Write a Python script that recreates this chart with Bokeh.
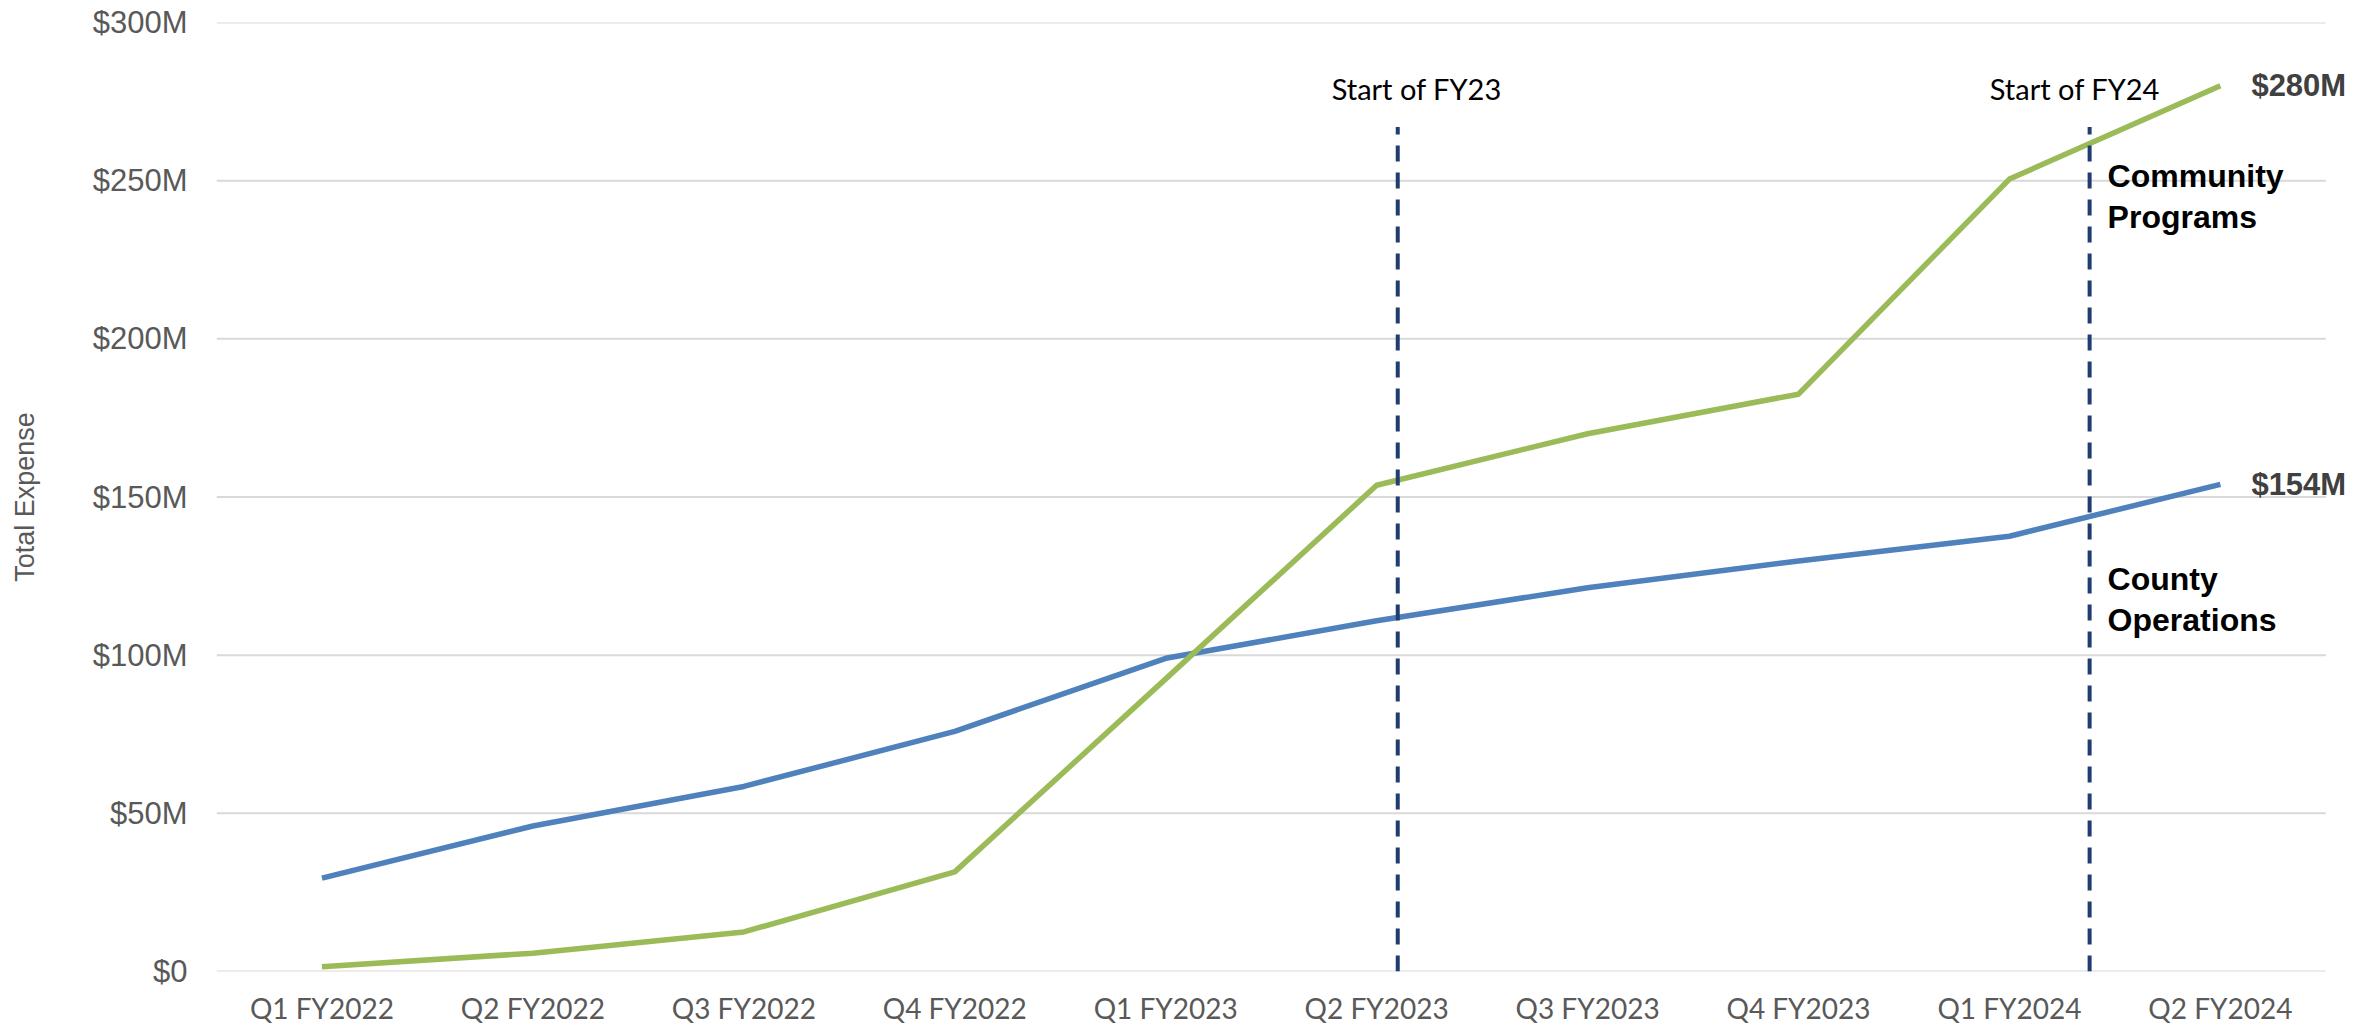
from bokeh.plotting import figure
from bokeh.models import ColumnDataSource, Range1d, FixedTicker
from bokeh.embed import file_html
from bokeh.resources import INLINE
from bokeh.core.properties import value

# ---------------- data ----------------
categories = ["Q1 FY2022", "Q2 FY2022", "Q3 FY2022", "Q4 FY2022",
              "Q1 FY2023", "Q2 FY2023", "Q3 FY2023", "Q4 FY2023",
              "Q1 FY2024", "Q2 FY2024"]
county_operations = [29.5, 46.0, 58.5, 75.9, 99.0, 110.9, 121.3, 129.8, 137.6, 154.0]
community_programs = [1.5, 5.8, 12.5, 31.5, 92.5, 153.7, 170.0, 182.5, 250.5, 280.0]
series_names = ["County\nOperations", "Community\nPrograms"]

y_ticks = [0, 50, 100, 150, 200, 250, 300]
y_tick_labels = ["$0", "$50M", "$100M", "$150M", "$200M", "$250M", "$300M"]

fy_names = ["Start of FY23", "Start of FY24"]
fy_quarters = ["Q2 FY2023", "Q1 FY2024"]
fy_fraction = [0.10, 0.38]          # fraction of a quarter past the quarter centre

# ---------------- styling ----------------
BLUE = "#4F81BD"
GREEN = "#9BBB59"
NAVY = "#1F3D6E"
GRAY_TXT = "#595959"
GRID = "#d9d9d9"

n = len(categories)
xs = [i + 0.5 for i in range(n)]          # category centres

W, H = 2379, 1027
p = figure(width=W, height=H,
           x_range=Range1d(0, n + 0.15),
           y_range=Range1d(0, 300),
           output_backend="svg", toolbar_location=None,
           min_border_left=216, min_border_right=22,
           min_border_top=22, min_border_bottom=40)
p.outline_line_color = None
p.background_fill_color = "white"
p.border_fill_color = "white"

p.xgrid.grid_line_color = None
p.ygrid.grid_line_color = None

# horizontal gridlines across the category area only
p.segment(x0=[0] * len(y_ticks), x1=[n] * len(y_ticks), y0=y_ticks, y1=y_ticks,
          line_color=GRID, line_width=2)

p.yaxis.ticker = FixedTicker(ticks=y_ticks)
p.yaxis.major_label_overrides = {t: l for t, l in zip(y_ticks, y_tick_labels)}
p.yaxis.axis_line_color = None
p.yaxis.major_tick_line_color = None
p.yaxis.minor_tick_line_color = None
p.yaxis.major_tick_out = 0
p.yaxis.major_tick_in = 0
p.yaxis.major_label_text_font = "Liberation Sans"
p.yaxis.major_label_text_font_size = "31px"
p.yaxis.major_label_text_color = GRAY_TXT
p.yaxis.major_label_standoff = 29
p.yaxis.axis_label = "Total Expense"
p.yaxis.axis_label_text_font = "Liberation Sans"
p.yaxis.axis_label_text_font_size = "27px"
p.yaxis.axis_label_text_font_style = "normal"
p.yaxis.axis_label_text_color = GRAY_TXT
p.yaxis.axis_label_standoff = 50

p.xaxis.ticker = FixedTicker(ticks=xs)
p.xaxis.major_label_overrides = {x: c for x, c in zip(xs, categories)}
p.xaxis.axis_line_color = None
p.xaxis.major_tick_line_color = None
p.xaxis.minor_tick_line_color = None
p.xaxis.major_tick_out = 0
p.xaxis.major_tick_in = 0
p.xaxis.major_label_text_font = "Lato"
p.xaxis.major_label_text_font_size = "28px"
p.xaxis.major_label_text_line_height = 1.0
p.xaxis.major_label_text_color = GRAY_TXT
p.xaxis.major_label_standoff = 19

# series lines
p.line(x=xs, y=county_operations, line_color=BLUE, line_width=5.5)
p.line(x=xs, y=community_programs, line_color=GREEN, line_width=5.5)

# fiscal-year start markers
fy_x = [categories.index(q) + 0.5 + f for q, f in zip(fy_quarters, fy_fraction)]
line_top = 267
fy_src = ColumnDataSource(dict(x=fy_x, y0=[0] * len(fy_x), y1=[line_top] * len(fy_x)))
p.segment(x0="x", y0="y0", x1="x", y1="y1", source=fy_src,
          line_color=NAVY, line_width=4, line_dash="16 11")

label_shift = [0.09, -0.07]
p.text(x=[x + s for x, s in zip(fy_x, label_shift)], y=[279.1] * len(fy_x), text=fy_names,
       text_font=value("Lato"), text_font_size="29px", text_color="black",
       text_align="center", text_baseline="alphabetic")

# end-value labels
end_vals = [community_programs[-1], county_operations[-1]]
p.text(x=[xs[-1]] * 2, y=end_vals, text=[f"${v:.0f}M" for v in end_vals],
       x_offset=31, text_font=value("Liberation Sans"), text_font_size="31px",
       text_font_style="bold", text_color="#404040",
       text_align="left", text_baseline="middle")

# series name labels
p.text(x=[fy_x[-1], fy_x[-1]], y=[117.6, 244.9], text=series_names,
       x_offset=18, text_font=value("Liberation Sans"), text_font_size="32px",
       text_font_style="bold", text_color="black",
       text_align="left", text_baseline="middle", text_line_height=1.15)

open("out.html", "w").write(file_html(p, INLINE))
